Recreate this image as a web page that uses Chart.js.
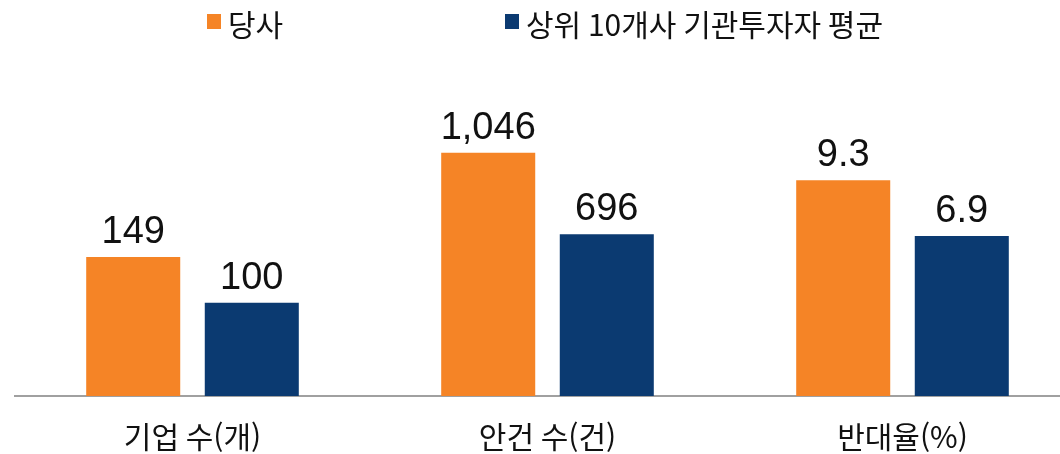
<!DOCTYPE html>
<html lang="ko">
<head>
<meta charset="utf-8">
<script src="https://cdn.jsdelivr.net/npm/chart.js@4.4.1/dist/chart.umd.min.js"></script>
<style>
  html, body { margin: 0; padding: 0; background: #fff; overflow: hidden; }
  #wrap { width: 1060px; height: 454px; overflow: hidden; }
</style>
</head>
<body>
<div id="wrap"><canvas id="grafico" width="1080" height="454"></canvas></div>
<script>
'use strict';

// ── Dati ──────────────────────────────────────────────
const categories = ['기업 수(개)', '안건 수(건)', '반대율(%)'];
const seriesNames = ['당사', '상위 10개사 기관투자자 평균'];
const ourValues = [149, 1046, 9.3];
const peerValues = [100, 696, 6.9];
const decimals = [0, 0, 1];
// each group has its own scale (top of its hidden axis)
const axisMax = [360, 1445, 14.48];

const seriesColors = ['#F58426', '#0B3A71'];
const FONT_KR = "'Noto Sans CJK KR', 'Noto Sans', sans-serif";
const FONT_NUM = "'Liberation Sans', Arial, sans-serif";

function fmt(v, d) {
  return v.toLocaleString('en-US', { minimumFractionDigits: d, maximumFractionDigits: d });
}

// one dataset per group/series, each group on its own y axis
const seriesValues = [ourValues, peerValues];
const datasets = [];
categories.forEach((cat, g) => {
  seriesValues.forEach((vals, s) => {
    datasets.push({
      label: seriesNames[s],
      data: categories.map((_, i) => (i === g ? vals[g] : null)),
      backgroundColor: seriesColors[s],
      borderWidth: 0,
      skipNull: true,
      yAxisID: 'y' + g,
      barPercentage: 0.793,
      categoryPercentage: 0.668,
      _group: g
    });
  });
});

const yScales = {};
axisMax.forEach((m, g) => {
  yScales['y' + g] = { display: false, min: 0, max: m };
});

// etichette sopra le barre
const valueLabels = {
  id: 'valueLabels',
  afterDatasetsDraw(chart) {
    const ctx = chart.ctx;
    ctx.save();
    ctx.fillStyle = '#111';
    ctx.font = '38px ' + FONT_NUM;
    ctx.textAlign = 'center';
    ctx.textBaseline = 'alphabetic';
    chart.data.datasets.forEach((ds, di) => {
      const meta = chart.getDatasetMeta(di);
      meta.data.forEach((bar, i) => {
        const v = ds.data[i];
        if (v === null || v === undefined) return;
        ctx.fillText(fmt(v, decimals[ds._group]), bar.x, bar.y - 14);
      });
    });
    ctx.restore();
  }
};

// legenda in alto
const topLegend = {
  id: 'topLegend',
  afterDraw(chart) {
    const ctx = chart.ctx;
    const boxX = [207, 505];
    ctx.save();
    ctx.font = '30px ' + FONT_KR;
    ctx.textBaseline = 'middle';
    ctx.textAlign = 'left';
    seriesNames.forEach((name, s) => {
      ctx.fillStyle = seriesColors[s];
      ctx.fillRect(boxX[s], 14, 14, 15);
      ctx.fillStyle = '#111';
      ctx.fillText(name, boxX[s] + 21, 25);
    });
    ctx.restore();
  }
};

const chart = new Chart(document.getElementById('grafico').getContext('2d'), {
  type: 'bar',
  data: { labels: categories, datasets: datasets },
  options: {
    responsive: false,
    devicePixelRatio: 1,
    animation: false,
    layout: { padding: { top: 60, left: 15, right: 0, bottom: 0 } },
    plugins: {
      legend: { display: false },
      tooltip: { enabled: false }
    },
    scales: Object.assign({
      x: {
        grid: { display: false, drawTicks: false },
        border: { display: true, color: '#a0a0a0', width: 2 },
        ticks: { color: '#111', padding: 23, font: { family: FONT_KR, size: 30 } },
        afterFit: scale => { scale.height = 58; }
      }
    }, yScales)
  },
  plugins: [valueLabels, topLegend]
});
</script>
</body>
</html>
